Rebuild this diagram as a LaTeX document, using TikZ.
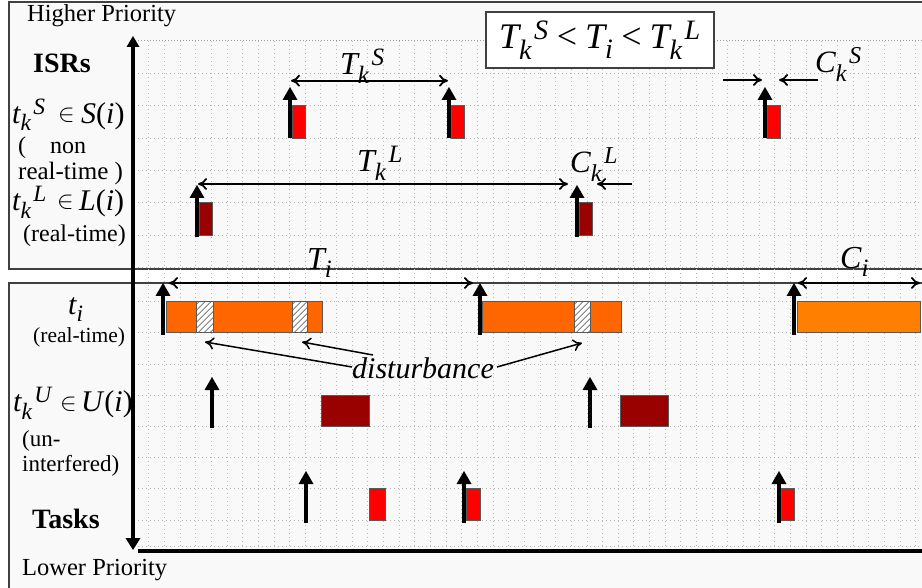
\documentclass[tikz,border=0pt]{standalone}
\usepackage{amsmath}
\usepackage{fontspec}
\setmainfont{Liberation Serif}
\usetikzlibrary{arrows.meta}
\renewcommand{\defaultscriptratio}{.78}
\definecolor{panelbg}{HTML}{F9F9F9}
\definecolor{ora}{HTML}{FF6600}
\definecolor{orb}{HTML}{FF8000}
\definecolor{drk}{HTML}{990000}
\definecolor{rd}{HTML}{FF0000}
\definecolor{frame}{HTML}{404040}
\newcommand\fsz[1]{\fontsize{#1}{#1}\selectfont}
\newcommand\TKS[3]{\textit{#1}_{\textit{#2}}{}^{\kern2pt\textit{#3}}}
\newcommand\hatchbox[2]{%
  \fill[white] (#1,301.5) rectangle (#2,332.7);
  \begin{scope}
    \clip (#1,301.5) rectangle (#2,332.7);
    \foreach \hh in {-40,-34,...,20} \draw[gray, line width=0.8pt] ({#1+\hh},332.7) -- ++(40,-40);
  \end{scope}
  \draw[bordr] (#1,301.5) rectangle (#2,332.7);}
\begin{document}
\begin{tikzpicture}[x=1pt,y=-1pt,
  >={Computer Modern Rightarrow[length=9pt,width=12pt]},
  gridv/.style={gray!55, line width=0.7pt, dash pattern=on 0.8pt off 3.2pt},
  gridh/.style={gray!60, line width=0.7pt, dash pattern=on 1.2pt off 2.8pt},
  gridtop/.style={gray!80, line width=1pt, dash pattern=on 1.2pt off 1.8pt},
  panel/.style={draw=frame, line width=1.2pt, fill=panelbg},
  bordr/.style={draw=black!65, line width=0.6pt},
  rel/.style={line width=4pt,-{Triangle[width=15pt,length=13pt,line width=0pt]}},
  dimarr/.style={line width=1.8pt},
  disarr/.style={line width=1.5pt},
  lbl/.style={anchor=base west, inner sep=0pt},
  rbox/.style={bordr, fill=rd},
  dbox/.style={bordr, fill=drk},
  obar/.style={bordr, fill=ora},
  obarb/.style={bordr, fill=orb}]
\useasboundingbox (0,0) rectangle (922,588);
\fill[white] (0,0) rectangle (922,588);
% panels
\draw[panel] (9,2) rectangle (935,269);
\draw[panel] (9,283) rectangle (935,600);
% grid
\foreach \k in {1,...,50} \draw[gridv] ({133+15.65*\k},40.7) -- ({133+15.65*\k},549);
\foreach \k in {1,...,7} \draw[gridh] (138,{40.7+32.4*\k}) -- (922,{40.7+32.4*\k});
\draw[gridtop] (138,40.7) -- (922,40.7);
\foreach \k in {0,...,7} \draw[gridh] (138,{301.5+31.2*\k}) -- (922,{301.5+31.2*\k});
\draw[gridh] (138,546.7) -- (922,546.7);
% formula box
\node[draw=frame, line width=2pt, fill=white, minimum width=228pt, minimum height=56pt, inner sep=0pt, font=\fsz{36}] (ineq) at (600,40)
  {$\TKS{T}{k}{S}$\hspace{8pt}<\hspace{8pt}$\textit{T}_{\textit{i}}$\hspace{8pt}<\hspace{8pt}$\TKS{T}{k}{L}$};
% axes
\draw[line width=3.5pt, {Triangle[width=13pt,length=11pt,line width=0pt]}-{Triangle[width=15pt,length=12pt,line width=0pt]}] (133,36) -- (133,550);
\draw[line width=4pt] (138,551) -- (925,551);
% ISR S(i)
\foreach \x in {290,449,765} {
  \draw[rbox] ({\x+2},105.5) rectangle ({\x+15},137.9);
  \draw[rel] (\x,138.5) -- (\x,87);
}
% ISR L(i)
\foreach \x in {197,577} {
  \draw[dbox] ({\x+2},202.7) rectangle ({\x+15},235.7);
  \draw[rel] (\x,237) -- (\x,185);
}
% t_i bars
\draw[obar] (166,301.5) rectangle (322,332.7);
\hatchbox{196}{213}
\hatchbox{292}{307}
\draw[obar] (482,301.5) rectangle (621,332.7);
\hatchbox{574}{590}
\draw[obarb] (797,301.5) rectangle (920,332.7);
\foreach \x in {163,480,794} \draw[rel] (\x,335) -- (\x,283);
% U(i)
\draw[dbox] (321.7,395.1) rectangle (369.3,426.3);
\draw[dbox] (620.7,395.1) rectangle (668.3,426.3);
\foreach \x in {212,590} \draw[rel] (\x,428) -- (\x,377);
% tasks
\draw[rbox] (369.3,488.7) rectangle (385,519.9);
\draw[rbox] (466,488.7) rectangle (480,519.9);
\draw[rbox] (781,488.7) rectangle (794.3,519.9);
\foreach \x in {306,464,779} \draw[rel] (\x,523) -- (\x,471);
% dimension arrows
\draw[dimarr,<->] (291,80.7) -- (448,80.7);
\draw[dimarr,->] (723,80) -- (762,80);
\draw[dimarr,->] (818,80) -- (779,80);
\draw[dimarr,<->] (198,184) -- (568,184);
\draw[dimarr,->] (632,184) -- (597,184);
\draw[dimarr,<->] (169,283) -- (473,283);
\draw[dimarr,<->] (798,283) -- (920,283);
% disturbance
\node[lbl, font=\fsz{30}\itshape] (dist) at (352,378) {disturbance};
\draw[disarr,->] (352,367) -- (205,342);
\draw[disarr,->] (373,355) -- (302,342);
\draw[disarr,->] (497,367) -- (582,343);
% plot labels
\node[lbl, font=\fsz{32}] (lTS) at (340,75) {$\TKS{T}{k}{S}$};
\node[lbl, font=\fsz{32}] (lTL) at (357,172) {$\TKS{T}{k}{L}$};
\node[lbl, font=\fsz{31}] (lCS) at (815,73) {$\TKS{C}{k}{S}$};
\node[lbl, font=\fsz{31}] (lCL) at (570,173) {$\TKS{C}{k}{L}$};
\node[lbl, font=\fsz{32}] (lTi) at (307,270) {$\textit{T}_{\textit{i}}$};
\node[lbl, font=\fsz{32}] (lCi) at (840,269) {$\textit{C}_{\textit{i}}$};
% left labels
\node[lbl, font=\fsz{24.5}] (hp) at (27,21.7) {Higher Priority};
\node[lbl, font=\fsz{28}\bfseries] (isr) at (33,72.7) {ISRs};
\node[lbl, font=\fsz{30}] (ls) at (12,123.3) {$\TKS{t}{k}{S}$};
\node[lbl, font=\fsz{28}] (lsin) at (58,121.5) {$\in$};
\node[lbl, font=\fsz{30}] (lsset) at (81,123.3) {\textit{S}(\textit{i})};
\node[lbl, font=\fsz{24}] (nrt1) at (18,153.3) {(};
\node[lbl, font=\fsz{24}] (nrt2) at (50,153.3) {non};
\node[lbl, font=\fsz{25}] (nrt3) at (18,179.5) {real-time )};
\node[lbl, font=\fsz{30}] (ll) at (12,211) {$\TKS{t}{k}{L}$};
\node[lbl, font=\fsz{28}] (llin) at (57,209) {$\in$};
\node[lbl, font=\fsz{30}] (llset) at (79,211) {\textit{L}(\textit{i})};
\node[lbl, font=\fsz{24}] (rt1) at (23,241.7) {(real-time)};
\node[lbl, font=\fsz{30}] (ti) at (68,315) {$\textit{t}_{\textit{i}}$};
\node[lbl, font=\fsz{21.5}] (rt2) at (33,342.5) {(real-time)};
\node[lbl, font=\fsz{30}] (lu) at (13,411.7) {$\TKS{t}{k}{U}$};
\node[lbl, font=\fsz{28}] (luin) at (60,410) {$\in$};
\node[lbl, font=\fsz{30}] (luset) at (81,411.7) {\textit{U}(\textit{i})};
\node[lbl, font=\fsz{23}] (un1) at (22,446.7) {(un-};
\node[lbl, font=\fsz{23}] (un2) at (22,471.7) {interfered)};
\node[lbl, font=\fsz{28}\bfseries] (tasks) at (32,528.3) {Tasks};
\node[lbl, font=\fsz{24.5}] (lp) at (22,575) {Lower Priority};
\end{tikzpicture}
\end{document}
